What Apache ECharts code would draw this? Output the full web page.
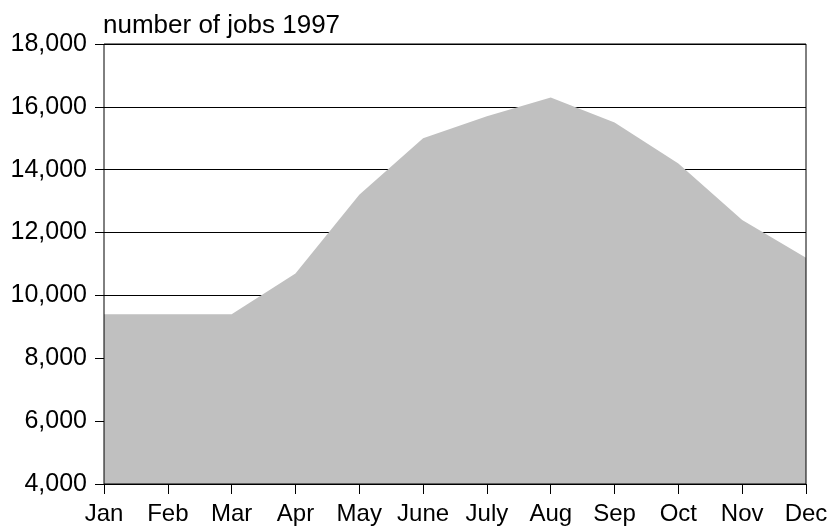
<!DOCTYPE html>
<html>
<head>
<meta charset="utf-8">
<script src="https://cdn.jsdelivr.net/npm/echarts@6/dist/echarts.min.js"></script>
<style>
  html, body { margin: 0; padding: 0; background: #fff; }
  #main { width: 832px; height: 527px; }
</style>
</head>
<body>
<div id="main"></div>
<script>
// months along the bottom
var months = ['Jan', 'Feb', 'Mar', 'Apr', 'May', 'June', 'July', 'Aug', 'Sep', 'Oct', 'Nov', 'Dec'];
// number of jobs, 1997
var jobs = [9400, 9400, 9400, 10700, 13200, 15000, 15700, 16300, 15500, 14200, 12400, 11200];
// y axis range
var yMin = 4000;
var yMax = 18000;
var yStep = 2000;

var chart = echarts.init(document.getElementById('main'), null, { renderer: 'canvas' });

var font = 'Liberation Sans, Arial, sans-serif';

var option = {
  backgroundColor: '#ffffff',
  animation: false,
  title: {
    text: 'number of jobs 1997',
    left: 103,
    top: 13,
    padding: 0,
    textStyle: { fontFamily: font, fontSize: 26, fontWeight: 'normal', color: '#000' }
  },
  grid: {
    left: 104,
    right: 26,
    top: 44,
    bottom: 43,
    show: true,
    borderColor: '#000',
    borderWidth: 1,
    backgroundColor: 'transparent',
    z: 10
  },
  xAxis: {
    type: 'category',
    data: months,
    boundaryGap: false,
    z: 10,
    axisLine: { show: true, lineStyle: { color: '#000', width: 1 } },
    axisTick: { show: true, length: 10, alignWithLabel: true, lineStyle: { color: '#000' } },
    axisLabel: { margin: 18, interval: 0, fontFamily: font, fontSize: 24, color: '#000' },
    splitLine: { show: false }
  },
  yAxis: {
    type: 'value',
    min: yMin,
    max: yMax,
    interval: yStep,
    axisLine: { show: false },
    axisTick: { show: true, length: 9, lineStyle: { color: '#000' } },
    axisLabel: {
      margin: 17,
      fontFamily: font,
      fontSize: 25,
      color: '#000',
      padding: [3, 0, 0, 0],
      formatter: function (v) { return v.toLocaleString('en-US'); }
    },
    splitLine: { show: true, lineStyle: { color: '#000', width: 1 } }
  },
  series: [{
    type: 'line',
    data: jobs,
    symbol: 'none',
    lineStyle: { width: 0 },
    areaStyle: { color: '#c0c0c0', opacity: 1, origin: 'start' }
  }]
};

chart.setOption(option);
</script>
</body>
</html>
